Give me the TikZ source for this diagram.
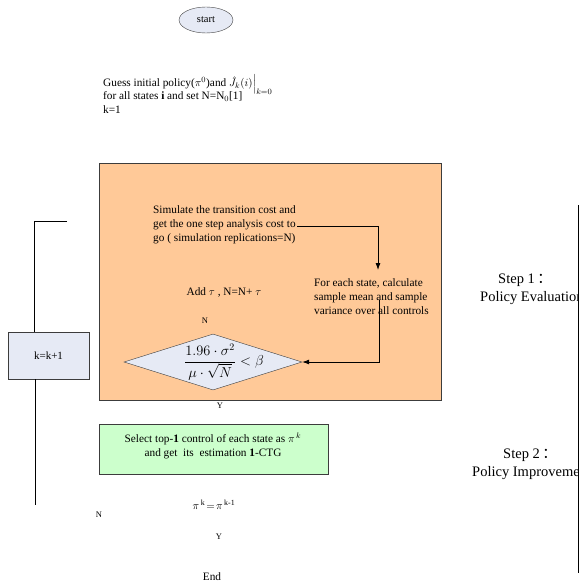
\documentclass[tikz,border=0pt]{standalone}
\usepackage{amsmath}
\usepackage{fontspec}
\setmainfont{Liberation Serif}
\newfontfamily\cjkfont{Noto Sans CJK SC}
\usetikzlibrary{shapes.geometric,arrows.meta}
\definecolor{peach}{RGB}{255,201,152}
\definecolor{paleblue}{RGB}{230,234,245}
\definecolor{palegreen}{RGB}{204,255,204}
\definecolor{edge}{RGB}{60,60,60}
\tikzset{
  txt/.style={font=\fontsize{11.3}{14}\selectfont, inner sep=0pt, align=left},
  small/.style={font=\fontsize{8.5}{9}\selectfont, inner sep=0pt},
  steptxt/.style={font=\fontsize{14.5}{18}\selectfont, inner sep=0pt, align=center},
  arr/.style={-{Latex[length=7pt,width=5pt]}, thick},
  plain/.style={thick}
}
\begin{document}
\begin{tikzpicture}[x=1pt,y=-1pt]
\useasboundingbox (0,0) rectangle (582,585);
% start
\node[ellipse, draw=edge, fill=paleblue, minimum width=54pt, minimum height=26pt, inner sep=0pt, font=\fontsize{10.5}{11}\selectfont] (start) at (206,20) {start};
% initial text
\node[txt, anchor=north west] (init) at (103,74) {Guess initial policy($\pi^0$)and $\hat{J}_k(i)\Big|_{k=0}$\\[-4pt]for all states \textbf{i} and set N=N$_0$[1]\\k=1};
% orange box
\node[draw=edge, fill=peach, minimum width=342pt, minimum height=237pt, inner sep=0pt, anchor=north west] (eval) at (99,163) {};
\node[txt, anchor=north west] (sim) at (153,205) {Simulate the transition cost and\\get the one step analysis cost to\\go ( simulation replications=N)};
\node[txt, anchor=north west] (each) at (314,278) {For each state, calculate\\sample mean and sample\\variance over all controls};
\node[txt, anchor=center] (add) at (224,292) {Add $\tau$ , N=N+ $\tau$};
\node[small] (nlab) at (205,321) {N};
\node[diamond, draw=edge, fill=paleblue, minimum width=178pt, minimum height=56pt, aspect=3.2, inner sep=0pt] (dia) at (213,362) {};
\node[font=\fontsize{14.5}{15}\selectfont, inner sep=0pt] (formula) at (224,362) {$\dfrac{1.96\cdot\sigma^2}{\mu\cdot\sqrt{N}}<\beta$};
\node[small] (ylab) at (220,406) {Y};
\coordinate (simend) at (297,226);
\coordinate (eachmid) at (379,300);
\draw[arr] (simend) -| (378,270);
\draw[arr] (eachmid) |- (dia.east);
% k=k+1
\node[draw=edge, fill=paleblue, minimum width=81pt, minimum height=47pt, inner sep=0pt, font=\fontsize{11}{12}\selectfont] (kbox) at (48.5,355.5) {k=k+1};
\coordinate (looptop) at (67,221);
\coordinate (loopbot) at (35,505);
\draw[plain] (looptop) -- (34,221) -- (kbox.north -| 34,0);
\draw[plain] (kbox.south -| 35,0) -- (loopbot);
% green box
\node[draw=edge, fill=palegreen, minimum width=229pt, minimum height=50pt, inner sep=0pt, anchor=north west] (improve) at (99,424) {};
\node[txt, align=center] (imptxt) at (213,446) {Select top-\textbf{1} control of each state as $\pi^{\,k}$\\and get \ its \ estimation \textbf{1}-CTG};
\node[txt] (conv) at (214,505) {$\pi^{\,\mathrm{k}}\!=\!\pi^{\,\mathrm{k\text{-}1}}$};
\node[small] (n2) at (99,515) {N};
\node[small] (y2) at (219,537) {Y};
\node[txt] (endn) at (212,577) {End};
% steps
\begin{scope}
\clip (440,150) rectangle (578,560);
\node[steptxt] (s1) at (525,280) {Step 1\,{\cjkfont ：}};
\node[steptxt, anchor=west] (s1b) at (480,298) {Policy Evaluation};
\node[steptxt] (s2) at (530,455) {Step 2\,{\cjkfont ：}};
\node[steptxt, anchor=west] (s2b) at (472,473) {Policy Improvement};
\end{scope}
\coordinate (rtop) at (578,205);
\coordinate (rbot) at (578,573);
\draw[plain] (rtop) -- (rbot);
\end{tikzpicture}
\end{document}
